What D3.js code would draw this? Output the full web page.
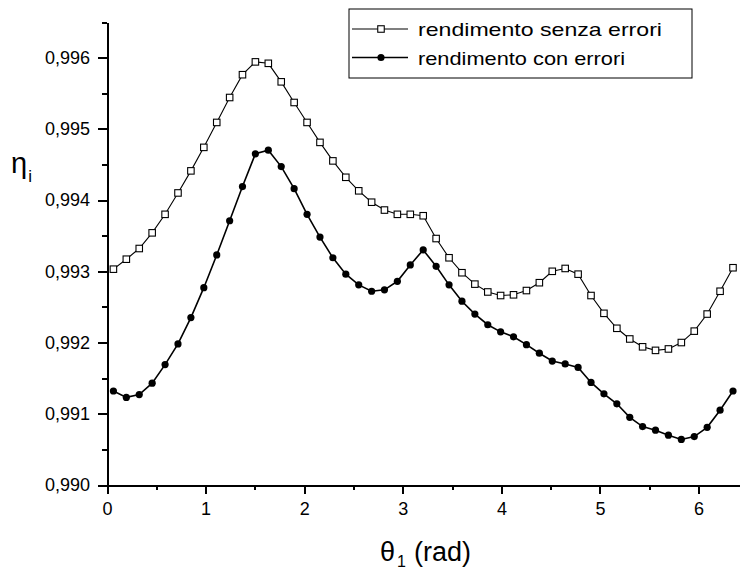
<!DOCTYPE html>
<html>
<head>
<meta charset="utf-8">
<script src="https://cdn.jsdelivr.net/npm/d3@7"></script>
<style>
  body { margin: 0; background: #fff; }
  svg { display: block; font-family: "Liberation Sans", Arial, sans-serif; }
  .axis path, .axis line { stroke: #000; stroke-width: 2; shape-rendering: crispEdges; }
  .axis text { font-size: 18px; fill: #000; }
</style>
</head>
<body>
<div id="chart"></div>
<script>
// theta_1 sample positions (rad)
const theta = [0.065, 0.196, 0.327, 0.458, 0.589, 0.720, 0.851, 0.982, 1.113, 1.244,
               1.374, 1.505, 1.636, 1.767, 1.898, 2.029, 2.160, 2.291, 2.422, 2.553,
               2.684, 2.814, 2.945, 3.076, 3.207, 3.338, 3.469, 3.600, 3.731, 3.862,
               3.992, 4.123, 4.254, 4.385, 4.516, 4.647, 4.778, 4.909, 5.040, 5.171,
               5.302, 5.432, 5.563, 5.694, 5.825, 5.956, 6.087, 6.218, 6.349];

// rendimento senza errori
const senzaErrori = [0.99303, 0.99317, 0.99332, 0.99354, 0.99380, 0.99410, 0.99441, 0.99474, 0.99509, 0.99544,
                     0.99576, 0.99594, 0.99592, 0.99566, 0.99537, 0.99509, 0.99481, 0.99455, 0.99432, 0.99413,
                     0.99397, 0.99386, 0.99380, 0.99380, 0.99378, 0.99346, 0.99319, 0.99298, 0.99282, 0.99271,
                     0.99266, 0.99267, 0.99273, 0.99284, 0.99300, 0.99304, 0.99296, 0.99266, 0.99241, 0.99220,
                     0.99205, 0.99194, 0.99189, 0.99191, 0.99200, 0.99216, 0.99240, 0.99272, 0.99305];

// rendimento con errori
const conErrori = [0.99132, 0.99123, 0.99127, 0.99143, 0.99169, 0.99198, 0.99235, 0.99277, 0.99323, 0.99371,
                   0.99419, 0.99465, 0.99470, 0.99447, 0.99416, 0.99380, 0.99348, 0.99319, 0.99296, 0.99281,
                   0.99272, 0.99274, 0.99286, 0.99309, 0.99330, 0.99307, 0.99281, 0.99258, 0.99240, 0.99225,
                   0.99215, 0.99208, 0.99197, 0.99185, 0.99174, 0.99170, 0.99165, 0.99144, 0.99128, 0.99114,
                   0.99095, 0.99082, 0.99077, 0.99070, 0.99064, 0.99068, 0.99081, 0.99105, 0.99132];

const seriesNames = ["rendimento senza errori", "rendimento con errori"];

const xMajor = [0, 1, 2, 3, 4, 5, 6];
const xMinor = [0.5, 1.5, 2.5, 3.5, 4.5, 5.5];
const yMajor = [0.990, 0.991, 0.992, 0.993, 0.994, 0.995, 0.996];
const yMinor = [0.9905, 0.9915, 0.9925, 0.9935, 0.9945, 0.9955, 0.9965];

const width = 740, height = 570;
const margin = {top: 22, right: 0, bottom: 85, left: 107};

const svg = d3.select("#chart").append("svg")
    .attr("width", width)
    .attr("height", height);

// scales
const x = d3.scaleLinear()
    .domain([0, 6.42])
    .range([margin.left, width - margin.right]);

const y = d3.scaleLinear()
    .domain([0.990, 0.9965])
    .range([height - margin.bottom, margin.top]);

const fmt = d => d3.format(".3f")(d).replace(".", ",");

// minor ticks first, then major axes
svg.append("g")
    .attr("class", "axis")
    .attr("transform", "translate(0," + y.range()[0] + ")")
    .call(d3.axisBottom(x).tickValues(xMinor).tickSize(5).tickSizeOuter(0).tickFormat(""));

svg.append("g")
    .attr("class", "axis")
    .attr("transform", "translate(" + x.range()[0] + ",0)")
    .call(d3.axisLeft(y).tickValues(yMinor).tickSize(5).tickSizeOuter(0).tickFormat(""));

svg.append("g")
    .attr("class", "axis x-axis")
    .attr("transform", "translate(0," + y.range()[0] + ")")
    .call(d3.axisBottom(x).tickValues(xMajor).tickSize(9).tickSizeOuter(0).tickPadding(8).tickFormat(d => d));

svg.append("g")
    .attr("class", "axis y-axis")
    .attr("transform", "translate(" + x.range()[0] + ",0)")
    .call(d3.axisLeft(y).tickValues(yMajor).tickSize(9).tickSizeOuter(0).tickPadding(8).tickFormat(fmt));

// axis titles
const yTitle = svg.append("text")
    .attr("x", 11)
    .attr("y", 173)
    .attr("font-size", 29)
    .attr("fill", "#000");
yTitle.append("tspan").text("η");
yTitle.append("tspan").attr("font-size", 17).attr("dy", 9).attr("dx", 1).text("i");

const xTitle = svg.append("text")
    .attr("x", 380)
    .attr("y", 561)
    .attr("font-size", 27)
    .attr("fill", "#000");
xTitle.append("tspan").text("θ");
xTitle.append("tspan").attr("font-size", 16).attr("dy", 6).attr("dx", 2).text("1");
xTitle.append("tspan").attr("dy", -6).attr("dx", 8).text("(rad)");

// lines
const line = d3.line()
    .x((d, i) => x(theta[i]))
    .y(d => y(d));

svg.append("path")
    .datum(senzaErrori)
    .attr("fill", "none")
    .attr("stroke", "#000")
    .attr("stroke-width", 1.1)
    .attr("d", line);

svg.append("path")
    .datum(conErrori)
    .attr("fill", "none")
    .attr("stroke", "#000")
    .attr("stroke-width", 1.6)
    .attr("d", line);

// markers
const sq = 6.5;
svg.selectAll(".sq")
    .data(senzaErrori)
    .enter().append("rect")
    .attr("class", "sq")
    .attr("x", (d, i) => x(theta[i]) - sq / 2)
    .attr("y", d => y(d) - sq / 2)
    .attr("width", sq)
    .attr("height", sq)
    .attr("fill", "#fff")
    .attr("stroke", "#000")
    .attr("stroke-width", 1.1);

svg.selectAll(".dot")
    .data(conErrori)
    .enter().append("circle")
    .attr("class", "dot")
    .attr("cx", (d, i) => x(theta[i]))
    .attr("cy", d => y(d))
    .attr("r", 3.6)
    .attr("fill", "#000");

// legend
const legend = svg.append("g").attr("transform", "translate(349,9)");
legend.append("rect")
    .attr("width", 343)
    .attr("height", 69)
    .attr("fill", "#fff")
    .attr("stroke", "#000")
    .attr("stroke-width", 1);

seriesNames.forEach((name, i) => {
    const row = legend.append("g").attr("transform", "translate(0," + (20 + i * 28.5) + ")");
    row.append("line")
        .attr("x1", 3).attr("x2", 59)
        .attr("stroke", "#000")
        .attr("stroke-width", i === 0 ? 1.1 : 1.6);
    if (i === 0) {
        row.append("rect")
            .attr("x", 32 - sq / 2).attr("y", -sq / 2)
            .attr("width", sq).attr("height", sq)
            .attr("fill", "#fff").attr("stroke", "#000").attr("stroke-width", 1.1);
    } else {
        row.append("circle").attr("cx", 32).attr("r", 3.6).attr("fill", "#000");
    }
    row.append("text")
        .attr("x", 69)
        .attr("y", 7)
        .attr("font-size", 19)
        .attr("textLength", i === 0 ? 244 : 207)
        .attr("lengthAdjust", "spacingAndGlyphs")
        .attr("fill", "#000")
        .text(name);
});
</script>
</body>
</html>
